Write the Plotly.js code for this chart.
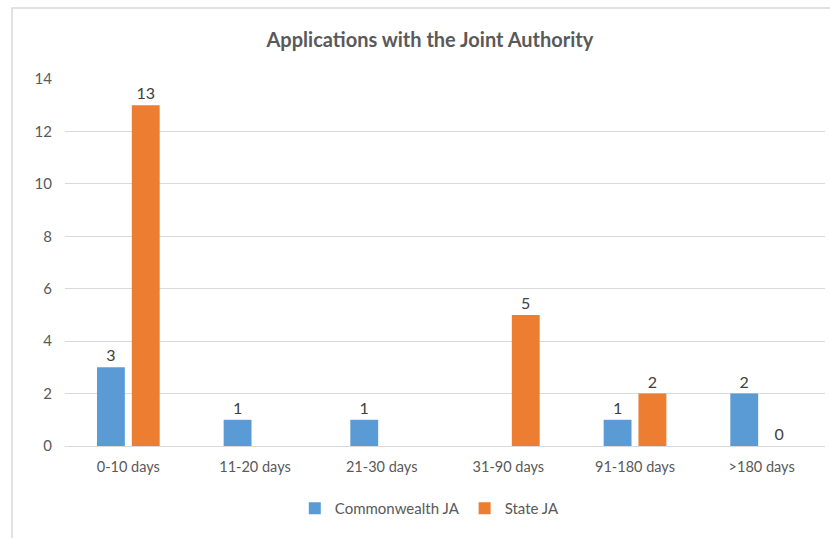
<!DOCTYPE html>
<html>
<head>
<meta charset="utf-8">
<script src="https://cdn.plot.ly/plotly-3.0.1.min.js"></script>
<style>html,body{margin:0;padding:0;background:#fff;}#chart{width:830px;height:538px;}</style>
</head>
<body>
<div id="chart"></div>
<script>
var categories = ["0-10 days", "11-20 days", "21-30 days", "31-90 days", "91-180 days", ">180 days"];
var commonwealthJA = [3, 1, 1, null, 1, 2];
var stateJA = [13, null, null, 5, 2, 0];
var yTicks = [0, 2, 4, 6, 8, 10, 12, 14];

var font = "Lato, 'Liberation Sans', sans-serif";
function labels(arr) { return arr.map(function (v) { return v === null ? "" : String(v); }); }

var traces = [
  {
    type: "bar", name: "Commonwealth JA", x: categories, y: commonwealthJA,
    marker: { color: "#5b9bd5" },
    text: labels(commonwealthJA), textposition: "outside", cliponaxis: false,
    textfont: { size: 16, color: "#404040", family: font }
  },
  {
    type: "bar", name: "State JA", x: categories, y: stateJA,
    marker: { color: "#ed7d31" },
    text: labels(stateJA), textposition: "outside", cliponaxis: false,
    textfont: { size: 16, color: "#404040", family: font }
  }
];

var layout = {
  width: 830, height: 538,
  margin: { l: 65, r: 5, t: 79, b: 92 },
  paper_bgcolor: "#ffffff", plot_bgcolor: "#ffffff",
  font: { family: font, color: "#595959", size: 14 },
  title: {
    text: "<b>Applications with the Joint Authority</b>",
    font: { size: 20, color: "#595959", family: font },
    x: 0.518, xref: "container", xanchor: "center",
    y: 0.925, yref: "container", yanchor: "middle"
  },
  barmode: "group", bargap: 0.45, bargroupgap: 0.2,
  xaxis: {
    type: "category", showgrid: false, zeroline: false,
    showline: true, linecolor: "#d9d9d9", linewidth: 1,
    ticks: "", ticklabelstandoff: 8,
    tickfont: { size: 14.5, color: "#595959" }
  },
  yaxis: {
    range: [0, 14], tickvals: yTicks, ticktext: yTicks.map(String),
    showgrid: true, gridcolor: "#d9d9d9", gridwidth: 1,
    zeroline: false, showline: false, ticks: "", ticklen: 0,
    ticklabelstandoff: 12,
    tickfont: { size: 15, color: "#595959" }
  },
  legend: {
    orientation: "h", x: 0.48, xanchor: "center", y: -0.17, yanchor: "middle",
    font: { size: 15, color: "#595959" }, itemwidth: 30
  },
  shapes: [{
    type: "rect", xref: "paper", yref: "paper",
    x0: -0.0697, x1: 1.2, y0: -1, y1: 1.1935,
    line: { color: "#d9d9d9", width: 1.5 }, fillcolor: "rgba(0,0,0,0)", layer: "below"
  }],
  showlegend: true
};

Plotly.newPlot("chart", traces, layout, { displayModeBar: false, staticPlot: true });
</script>
</body>
</html>
